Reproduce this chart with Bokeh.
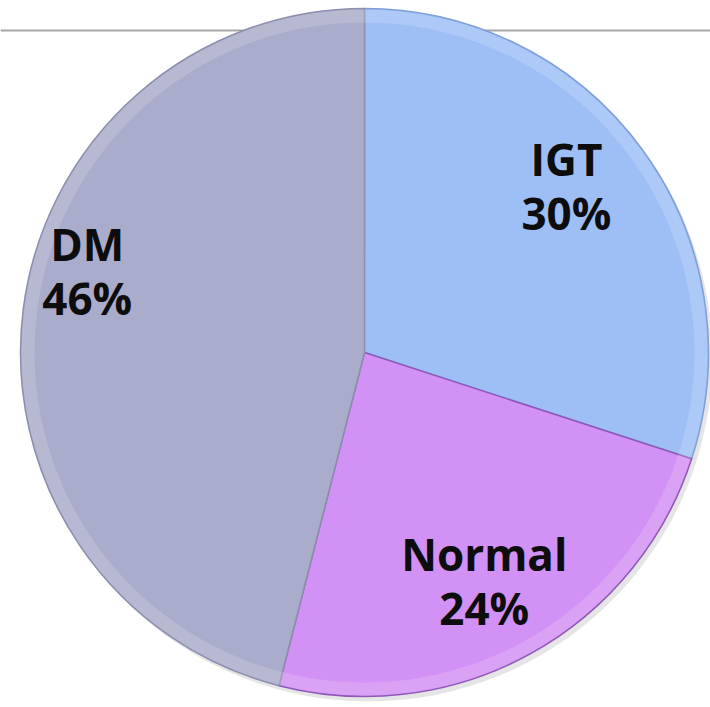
import math
from bokeh.plotting import figure
from bokeh.models import ColumnDataSource, Range1d
from bokeh.core.properties import value
from bokeh.embed import file_html
from bokeh.resources import INLINE

# Glucose tolerance categories and their shares (%)
categories = ["IGT", "Normal", "DM"]
shares = [30, 24, 46]
colors = ["#9dbff6", "#d291f4", "#aaaccb"]
edge_colors = ["#7f9fd8", "#8e58b8", "#8c8eae"]

W, H = 710, 707
cx, cy, R = 364, 355, 344

p = figure(width=W, height=H, output_backend="svg", toolbar_location=None,
           x_range=Range1d(0, W), y_range=Range1d(0, H),
           min_border=0, outline_line_color=None, background_fill_color="white")
p.axis.visible = False
p.grid.visible = False

# header rule behind the pie
p.segment(x0=[0], y0=[H - 30], x1=[W], y1=[H - 30], line_color="#a6a6a6", line_width=2)

# slices run clockwise from 12 o'clock
total = float(sum(shares))
starts, ends, mids = [], [], []
a = math.pi / 2
for s in shares:
    sweep = 2 * math.pi * s / total
    ends.append(a)
    starts.append(a - sweep)
    mids.append(a - sweep / 2)
    a -= sweep

src = ColumnDataSource(dict(cat=categories, start=starts, end=ends, color=colors,
                            edge=edge_colors))

# soft shadow under the pie
p.circle(x=cx + 4, y=cy - 5, radius=R, fill_color="#000000", fill_alpha=0.10, line_color=None)
p.wedge(x=cx, y=cy, radius=R, start_angle="start", end_angle="end", source=src,
        fill_color="color", line_color="edge", line_width=1.5)
# light bevel near the rim
p.annular_wedge(x=cx, y=cy, inner_radius=R - 14, outer_radius=R - 1, start_angle="start",
                end_angle="end", source=src, fill_color="white", fill_alpha=0.16, line_color=None)

# labels placed along each slice's middle direction
label_r = [0.76, 0.75, 0.84]
label_shift = [0.06, -0.02, -0.16]
lx, ly1, ly2, t1, t2 = [], [], [], [], []
for cat, s, m, r, sh in zip(categories, shares, mids, label_r, label_shift):
    ang = m + sh
    x = cx + R * r * math.cos(ang)
    y = cy + R * r * math.sin(ang)
    lx.append(x)
    ly1.append(y + 27)
    ly2.append(y - 27)
    t1.append(cat)
    t2.append(f"{s}%")

for ys, txt in ((ly1, t1), (ly2, t2)):
    p.text(x=lx, y=ys, text=txt, text_font=value("Open Sans"), text_font_style="bold",
           text_font_size="44px", text_color="#0d0d0d", text_align="center",
           text_baseline="middle")

open("out.html", "w").write(file_html(p, INLINE))
